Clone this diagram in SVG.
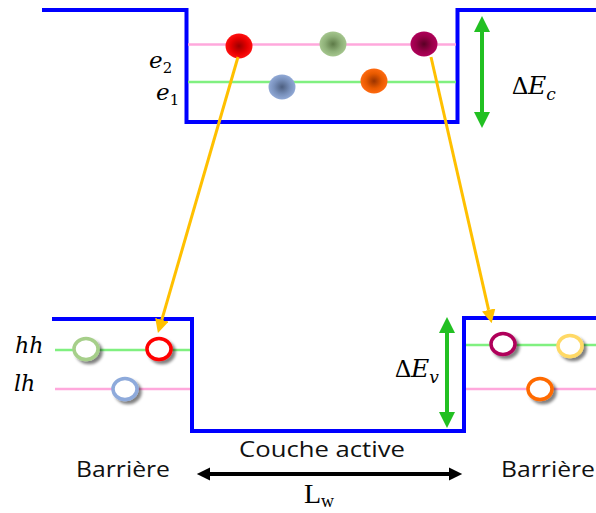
<svg xmlns="http://www.w3.org/2000/svg" width="596" height="513" viewBox="0 0 596 513">
  <defs>
    <radialGradient id="gRed"><stop offset="0" stop-color="#9a0000"/><stop offset="0.6" stop-color="#e60000"/><stop offset="1" stop-color="#ff1010"/></radialGradient>
    <radialGradient id="gGreen"><stop offset="0" stop-color="#5d7a47"/><stop offset="0.6" stop-color="#8eb078"/><stop offset="1" stop-color="#a5c68e"/></radialGradient>
    <radialGradient id="gCrimson"><stop offset="0" stop-color="#5a0025"/><stop offset="0.6" stop-color="#980048"/><stop offset="1" stop-color="#b0005a"/></radialGradient>
    <radialGradient id="gBlue"><stop offset="0" stop-color="#4d5f80"/><stop offset="0.6" stop-color="#7890bb"/><stop offset="1" stop-color="#91a9d6"/></radialGradient>
    <radialGradient id="gOrange"><stop offset="0" stop-color="#9a3300"/><stop offset="0.6" stop-color="#e85a00"/><stop offset="1" stop-color="#ff6a10"/></radialGradient>
    <filter id="shadow" x="-50%" y="-50%" width="200%" height="200%">
      <feGaussianBlur in="SourceAlpha" stdDeviation="1.6"/>
      <feOffset dx="2.5" dy="2.5" result="b"/>
      <feComponentTransfer><feFuncA type="linear" slope="0.5"/></feComponentTransfer>
      <feMerge><feMergeNode/><feMergeNode in="SourceGraphic"/></feMerge>
    </filter>
    <!-- arrowheads: base sits on the line end, tip points outward -->
    <marker id="headOrange" viewBox="0 0 10 10" refX="0" refY="5" markerWidth="4.6" markerHeight="4.6" orient="auto" markerUnits="strokeWidth">
      <path d="M0,0 L10,5 L0,10 z" fill="#ffc000"/>
    </marker>
    <marker id="headGreen" viewBox="0 0 10 10" refX="0" refY="5" markerWidth="4" markerHeight="4" orient="auto-start-reverse" markerUnits="strokeWidth">
      <path d="M0,0 L10,5 L0,10 z" fill="#22c022"/>
    </marker>
    <marker id="headBlack" viewBox="0 0 10 10" refX="0" refY="5" markerWidth="4" markerHeight="3.3" orient="auto-start-reverse" markerUnits="strokeWidth">
      <path d="M0,0 L10,5 L0,10 z" fill="#000"/>
    </marker>
  </defs>
  <style>
    .band { fill: none; stroke: #0000ff; stroke-width: 4; }
    .lvlPink { stroke: #ffa8dc; stroke-width: 2.5; }
    .lvlGreen { stroke: #80f080; stroke-width: 2.5; }
    .hole { fill: #fff; stroke-width: 3.5; filter: url(#shadow); }
    .math { font-family: "DejaVu Serif", "Liberation Serif", serif; font-style: italic; fill: #000; }
    .up { font-family: "Liberation Serif", serif; fill: #000; }
    .label { font-family: "Open Sans", "Liberation Sans", sans-serif; font-size: 22px; fill: #111; }
    .transition { stroke: #ffc000; stroke-width: 3; fill: none; marker-end: url(#headOrange); }
    .gap { stroke: #22c022; stroke-width: 4; marker-start: url(#headGreen); marker-end: url(#headGreen); }
  </style>

  <!-- conduction band well -->
  <g id="conduction-band">
    <path class="band" d="M42,10 H186.5 V122 H457.5 V10 H596"/>
    <line class="lvlPink" x1="188" y1="44.5" x2="456" y2="44.5"/>
    <line class="lvlGreen" x1="188" y1="82" x2="456" y2="82"/>
  </g>

  <!-- valence band well -->
  <g id="valence-band">
    <path class="band" d="M52,319 H192 V431 H464 V318 H596"/>
    <line class="lvlGreen" x1="55" y1="350" x2="190" y2="350"/>
    <line class="lvlPink" x1="55" y1="389" x2="190" y2="389"/>
    <line class="lvlGreen" x1="466" y1="345" x2="596" y2="345"/>
    <line class="lvlPink" x1="466" y1="389" x2="596" y2="389"/>
  </g>

  <!-- electrons -->
  <g id="electrons">
    <ellipse cx="239" cy="46" rx="13.5" ry="12.5" fill="url(#gRed)"/>
    <ellipse cx="333" cy="44" rx="13.5" ry="12.5" fill="url(#gGreen)"/>
    <ellipse cx="424" cy="44" rx="13.5" ry="12.5" fill="url(#gCrimson)"/>
    <ellipse cx="282" cy="87" rx="13.5" ry="12.5" fill="url(#gBlue)"/>
    <ellipse cx="374" cy="81" rx="13.5" ry="12.5" fill="url(#gOrange)"/>
  </g>

  <!-- holes -->
  <g id="holes">
    <ellipse class="hole" cx="86" cy="349" rx="12" ry="10.5" stroke="#a6cf8a"/>
    <ellipse class="hole" cx="159" cy="349" rx="12" ry="10.5" stroke="#ff0000"/>
    <ellipse class="hole" cx="125" cy="389" rx="12" ry="10.5" stroke="#8eaadb"/>
    <ellipse class="hole" cx="503" cy="344" rx="12" ry="10.5" stroke="#b0005a"/>
    <ellipse class="hole" cx="570" cy="346" rx="12" ry="10.5" stroke="#ffd966"/>
    <ellipse class="hole" cx="540" cy="389" rx="12" ry="10.5" stroke="#ff6a00"/>
  </g>

  <!-- connectors -->
  <g id="connectors">
    <line class="transition" x1="238" y1="57" x2="161.8" y2="319.8"/>
    <line class="transition" x1="431" y1="57" x2="488.6" y2="309.9"/>
    <line class="gap" x1="482" y1="32" x2="482" y2="112"/>
    <line class="gap" x1="447" y1="333" x2="447" y2="412"/>
    <line stroke="#000" stroke-width="4" marker-start="url(#headBlack)" marker-end="url(#headBlack)" x1="210" y1="474" x2="449" y2="474"/>
  </g>

  <!-- labels -->
  <g id="labels">
    <text class="math" x="149" y="68" font-size="23">e<tspan font-size="15" dy="5" font-style="normal">2</tspan></text>
    <text class="math" x="156" y="100" font-size="23">e<tspan font-size="15" dy="5" font-style="normal">1</tspan></text>
    <text class="math" x="15" y="353" font-size="22">hh</text>
    <text class="math" x="14" y="391" font-size="22">lh</text>
    <text class="up" x="512" y="94" font-size="25">Δ<tspan class="math" font-size="25">E</tspan><tspan class="math" font-size="17" dy="6">c</tspan></text>
    <text class="up" x="395" y="377" font-size="25">Δ<tspan class="math" font-size="25">E</tspan><tspan class="math" font-size="17" dy="6">v</tspan></text>
    <text class="label" x="239" y="457" textLength="166" lengthAdjust="spacingAndGlyphs">Couche active</text>
    <text class="label" x="76" y="477" textLength="94" lengthAdjust="spacingAndGlyphs">Barrière</text>
    <text class="label" x="501" y="477" textLength="94" lengthAdjust="spacingAndGlyphs">Barrière</text>
    <text class="up" x="304" y="503" font-size="28">L<tspan font-size="18" dy="4">w</tspan></text>
  </g>
</svg>
